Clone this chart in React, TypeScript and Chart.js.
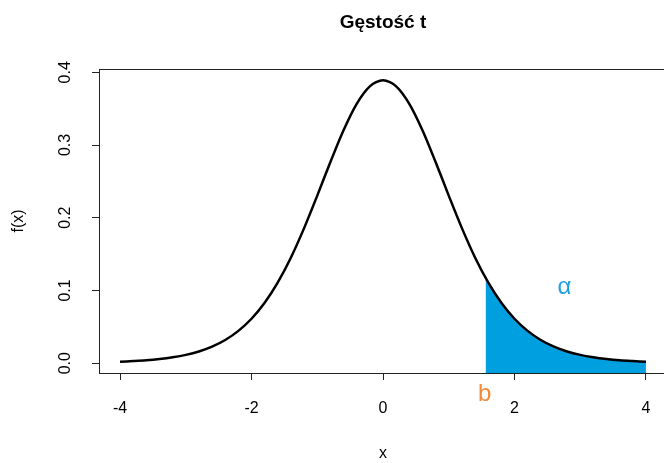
import React, { useEffect, useRef } from "react";
import { Chart, registerables } from "chart.js";

Chart.register(...registerables);

// Values (density curve)
const xValues = [
  -4.0, -3.8, -3.6, -3.4, -3.2, -3.0, -2.8, -2.6, -2.4, -2.2, -2.0, -1.8, -1.6, -1.4, -1.2, -1.0, -0.8, -0.6, -0.4, -0.2,
  0.0, 0.2, 0.4, 0.6, 0.8, 1.0, 1.2, 1.4, 1.6, 1.8, 2.0, 2.2, 2.4, 2.6, 2.8, 3.0, 3.2, 3.4, 3.6, 3.8, 4.0,
];
const yValues = [
  0.0020, 0.0029, 0.0040, 0.0057, 0.0081, 0.0114, 0.0161, 0.0227, 0.0319, 0.0444, 0.0611, 0.0831, 0.1111, 0.1454, 0.1857, 0.2304, 0.2766, 0.3203, 0.3566, 0.3807,
  0.3891, 0.3807, 0.3566, 0.3203, 0.2766, 0.2304, 0.1857, 0.1454, 0.1111, 0.0831, 0.0611, 0.0444, 0.0319, 0.0227, 0.0161, 0.0114, 0.0081, 0.0057, 0.0040, 0.0029, 0.0020,
];
const bX = 1.56;
const bY = 0.117;
const xTicks = [-4, -2, 0, 2, 4];
const yTicks = [0.0, 0.1, 0.2, 0.3, 0.4];
const titleText = "Gęstość t";
const xLabel = "x";
const yLabel = "f(x)";
const alphaLabel = "α";
const bLabel = "b";

const FONT = "Arial, 'Liberation Sans', sans-serif";

export default function App() {
  const ref = useRef<HTMLCanvasElement | null>(null);

  useEffect(() => {
    document.body.style.margin = "0";
    document.body.style.overflow = "hidden";
    const canvas = ref.current!;
    const curve = xValues.map((x, i) => ({ x, y: yValues[i] }));
    const tail = [{ x: bX, y: bY }].concat(curve.filter((p) => p.x > bX));

    const deco = {
      id: "deco",
      afterDraw(chart: any) {
        const ctx = chart.ctx;
        const ca = chart.chartArea;
        const xs = chart.scales.x;
        const ys = chart.scales.y;
        ctx.save();
        // box
        ctx.strokeStyle = "#222";
        ctx.lineWidth = 1;
        ctx.strokeRect(ca.left + 0.5, ca.top + 0.5, ca.right - ca.left, ca.bottom - ca.top);
        // y tick labels rotated
        ctx.fillStyle = "#000";
        ctx.font = `16px ${FONT}`;
        ctx.textAlign = "center";
        ctx.textBaseline = "middle";
        yTicks.forEach((v) => {
          const py = ys.getPixelForValue(v);
          ctx.save();
          ctx.translate(66, py);
          ctx.rotate(-Math.PI / 2);
          ctx.fillText(v.toFixed(1), 0, 0);
          ctx.restore();
        });
        // axis titles
        ctx.save();
        ctx.translate(19, (ca.top + ca.bottom) / 2);
        ctx.rotate(-Math.PI / 2);
        ctx.fillText(yLabel, 0, 0);
        ctx.restore();
        const cx = xs.getPixelForValue(0);
        ctx.fillText(xLabel, cx, 454);
        // title
        ctx.font = `bold 19px ${FONT}`;
        ctx.fillText(titleText, cx, 23);
        // annotations
        ctx.font = `24px ${FONT}`;
        ctx.fillStyle = "#F5893A";
        ctx.fillText(bLabel, xs.getPixelForValue(bX) - 1, ys.getPixelForValue(-0.043));
        ctx.fillStyle = "#1E9FE0";
        ctx.fillText(alphaLabel, xs.getPixelForValue(2.76), ys.getPixelForValue(0.104));
        ctx.restore();
      },
    };

    const chart = new Chart(canvas, {
      type: "line",
      data: {
        datasets: [
          {
            data: curve,
            borderColor: "#000",
            borderWidth: 2.5,
            pointRadius: 0,
            fill: false,
            tension: 0.3,
            order: 1,
          },
          {
            data: tail,
            borderWidth: 0,
            borderColor: "rgba(0,0,0,0)",
            backgroundColor: "#00A0E0",
            pointRadius: 0,
            fill: "start",
            tension: 0.3,
            order: 2,
          },
        ],
      },
      options: {
        animation: false,
        responsive: false,
        devicePixelRatio: 1,
        layout: { padding: { top: 69, right: 33, left: 0, bottom: 0 } },
        plugins: { legend: { display: false }, tooltip: { enabled: false }, title: { display: false } },
        scales: {
          x: {
            type: "linear",
            min: -4.32,
            max: 4.32,
            afterBuildTicks: (s: any) => {
              s.ticks = xTicks.map((v) => ({ value: v }));
            },
            afterFit: (s: any) => {
              s.height = 90;
            },
            ticks: {
              color: "#000",
              font: { size: 16, family: FONT },
              padding: 19,
              maxRotation: 0,
              callback: (v: any) => String(v),
            },
            grid: { drawOnChartArea: false, drawTicks: true, tickLength: 7, color: "#222" },
            border: { display: false },
          },
          y: {
            type: "linear",
            min: -0.0135,
            max: 0.4045,
            afterBuildTicks: (s: any) => {
              s.ticks = yTicks.map((v) => ({ value: v }));
            },
            afterFit: (s: any) => {
              s.width = 99;
            },
            ticks: {
              color: "rgba(0,0,0,0)",
              font: { size: 16, family: FONT },
              callback: (v: any) => Number(v).toFixed(1),
            },
            grid: { drawOnChartArea: false, drawTicks: true, tickLength: 7, color: "#222" },
            border: { display: false },
          },
        },
      },
      plugins: [deco],
    });
    return () => chart.destroy();
  }, []);

  return <canvas ref={ref} width={700} height={463} style={{ display: "block", width: 700, height: 463 }} />;
}
